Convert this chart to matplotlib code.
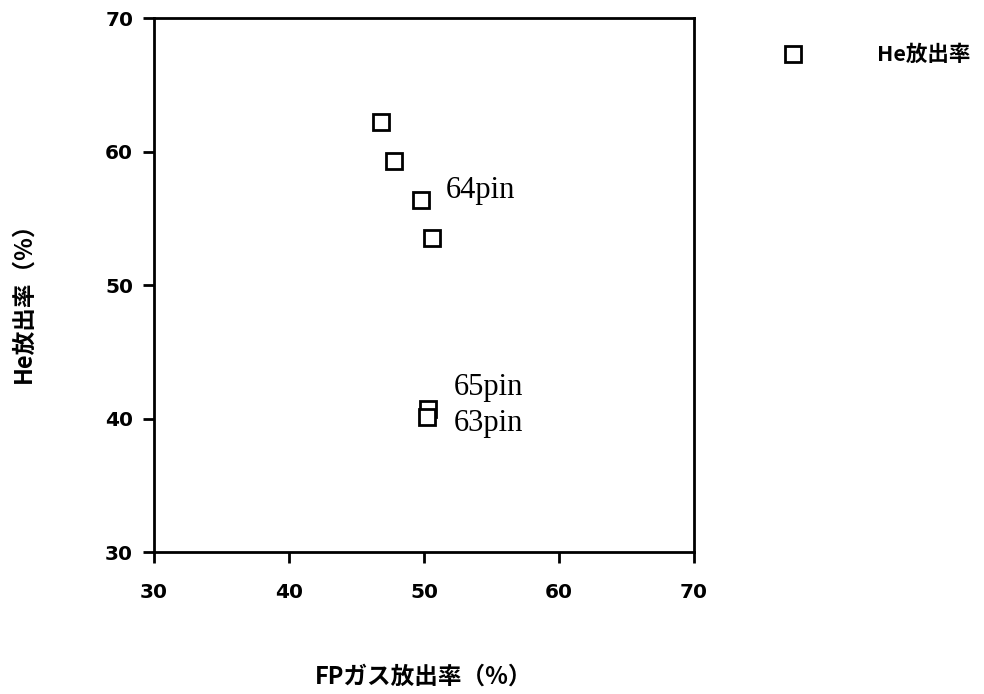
import matplotlib
matplotlib.use("Agg")
import matplotlib.pyplot as plt

# FP gas release rate vs. He release rate (%)
fp_release = [46.8, 47.8, 49.8, 50.6, 50.3, 50.2]
he_release = [62.2, 59.3, 56.4, 53.5, 40.7, 40.1]

pin_labels = ["64pin", "65pin", "63pin"]
pin_label_xy = [(51.6, 57.1), (52.2, 42.3), (52.2, 39.6)]

x_ticks = [30, 40, 50, 60, 70]
y_ticks = [30, 40, 50, 60, 70]

CJK = ['Noto Sans CJK JP', 'DejaVu Sans']
plt.rcParams['font.family'] = ['DejaVu Sans']

fig = plt.figure(figsize=(9.84, 6.94), dpi=100)
ax = fig.add_axes([0.1565, 0.2046, 0.5488, 0.7694])

ax.plot(fp_release, he_release, linestyle='none', marker='s', markersize=12,
        markerfacecolor='white', markeredgecolor='black', markeredgewidth=2.0,
        label='He放出率', clip_on=False)

for txt, (tx, ty) in zip(pin_labels, pin_label_xy):
    ax.text(tx, ty, txt, fontsize=22, family='Liberation Serif',
            ha='left', va='center', color='black')

ax.set_xlim(30, 70)
ax.set_ylim(30, 70)
ax.set_xticks(x_ticks)
ax.set_yticks(y_ticks)
ax.tick_params(direction='out', length=8, width=2, labelsize=14.5,
               top=False, right=False)
ax.tick_params(axis='x', pad=14)
ax.tick_params(axis='y', pad=7)
for lab in ax.get_xticklabels() + ax.get_yticklabels():
    lab.set_fontweight('bold')
for sp in ax.spines.values():
    sp.set_linewidth(2)

fig.text(0.431, 0.0245, 'FPガス放出率（%）', fontsize=17, fontweight='bold',
         ha='center', va='center', family=CJK)
fig.text(0.0234, 0.572, 'He放出率（%）', fontsize=17, fontweight='bold',
         ha='center', va='center', rotation=90, family=CJK)

ax.legend(loc='center left', bbox_to_anchor=(1.107, 0.931), frameon=False,
          handletextpad=2.9, prop={'size': 15.5, 'weight': 'bold', 'family': CJK})

fig.savefig('out.png', dpi=100, facecolor='white')
